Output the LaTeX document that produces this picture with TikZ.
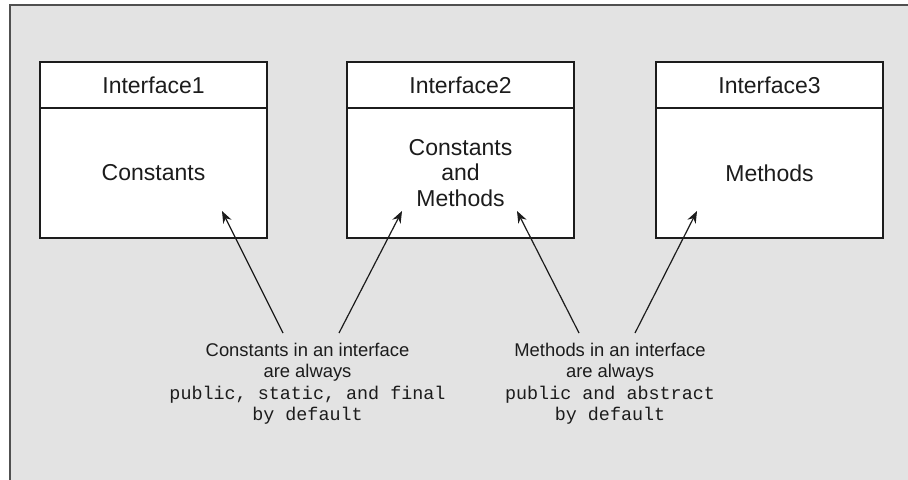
\documentclass[tikz,border=0pt]{standalone}
\usepackage{fontspec}
\setmainfont{Liberation Sans}
\setmonofont{Liberation Mono}
\usetikzlibrary{arrows.meta}
\definecolor{panelgray}{HTML}{E3E3E3}
\definecolor{framegray}{HTML}{505050}
\definecolor{inkgray}{HTML}{1C1C1C}
\tikzset{
  head/.style={draw=inkgray, line width=0.75pt, fill=white, minimum width=113.5pt, minimum height=23pt, inner sep=0pt, font=\fontsize{11.5}{13}\selectfont, text=inkgray},
  body/.style={draw=inkgray, line width=0.75pt, fill=white, minimum width=113.5pt, minimum height=65pt, inner sep=0pt, align=center, font=\fontsize{11.5}{12.8}\selectfont, text=inkgray},
  note/.style={align=center, anchor=north, inner sep=0pt, font=\fontsize{9.2}{10.6}\selectfont, text=inkgray},
  pointer/.style={-{Stealth[length=6pt, width=4.6pt]}, line width=0.6pt, draw=inkgray}
}
\begin{document}
\begin{tikzpicture}[x=0.5pt, y=-0.5pt]
\useasboundingbox (0,0) rectangle (908,480);
% panel
\fill[panelgray] (10,5) rectangle (908,480);
\draw[framegray, line width=1pt] (10,480) -- (10,5) -- (908,5);
% interfaces
\node[body] (b1) at (153.5,173) {Constants};
\node[head] (h1) at (153.5,85) {Interface1};
\node[body] (b2) at (460.5,173) {Constants\\and\\Methods};
\node[head] (h2) at (460.5,85) {Interface2};
\node[body] (b3) at (769.5,173) {Methods};
\node[head] (h3) at (769.5,85) {Interface3};
% notes
\node[note] (n1) at (307.5,343) {Constants in an interface\\are always\\\texttt{public, static, and final}\\\texttt{by default}};
\node[note] (n2) at (610,343) {Methods in an interface\\are always\\\texttt{public and abstract}\\\texttt{by default}};
% arrow tips
\coordinate (t1) at (222,211);
\coordinate (t2) at (402,211);
\coordinate (t3) at (517,211);
\coordinate (t4) at (697,211);
\draw[pointer] ([shift={(-24.5,-10)}]n1.north) -- (t1);
\draw[pointer] ([shift={(31.5,-10)}]n1.north) -- (t2);
\draw[pointer] ([shift={(-31,-10)}]n2.north) -- (t3);
\draw[pointer] ([shift={(25,-10)}]n2.north) -- (t4);
\end{tikzpicture}
\end{document}
